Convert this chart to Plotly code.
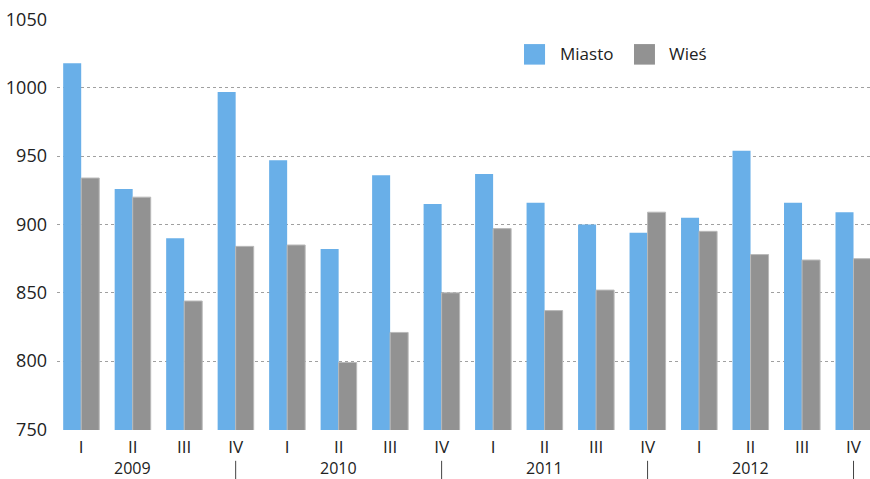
import plotly.graph_objects as go

# quarters 2009-2012
quarters = ["I", "II", "III", "IV"] * 4
years = ["2009", "2010", "2011", "2012"]
miasto = [1018, 926, 890, 997, 947, 882, 936, 915, 937, 916, 900, 894, 905, 954, 916, 909]
wies = [934, 920, 844, 884, 885, 799, 821, 850, 897, 837, 852, 909, 895, 878, 874, 875]

BLUE = "#69afe8"
GRAY = "#929292"
FONT = "Open Sans"

x = list(range(len(quarters)))

fig = go.Figure()
fig.add_trace(go.Bar(x=x, y=miasto, name="Miasto", marker=dict(color=BLUE, line=dict(width=0))))
fig.add_trace(go.Bar(x=x, y=wies, name="Wieś", marker=dict(color=GRAY, line=dict(color="#b9b9b9", width=1))))

# year labels sit under the 2nd quarter, separators under the 4th
annotations = []
for i, yr in enumerate(years):
    annotations.append(dict(
        x=i * 4 + 1, y=0, xref="x", yref="paper", text=yr, showarrow=False,
        yanchor="middle", yshift=-38, font=dict(family=FONT, size=16, color="#222"),
    ))
shapes = []
for i in range(len(years)):
    shapes.append(dict(
        type="line", xref="x", yref="paper", x0=i * 4 + 3, x1=i * 4 + 3,
        y0=-0.075, y1=-0.12, line=dict(color="#444", width=1),
    ))

# manual legend with large squares
for (x0, x1, col, tx, name) in [(0.5744, 0.6003, BLUE, 0.6162, "Miasto"),
                                (0.7097, 0.7355, GRAY, 0.7503, "Wieś")]:
    shapes.append(dict(type="rect", xref="paper", yref="paper", x0=x0, x1=x1,
                       y0=0.889, y1=0.939, fillcolor=col, line=dict(width=0)))
    annotations.append(dict(x=tx, y=0.915, xref="paper", yref="paper", text=name,
                            showarrow=False, xanchor="left", yanchor="middle",
                            font=dict(family=FONT, size=17, color="#222")))

fig.update_layout(
    width=870, height=479,
    margin=dict(l=57, r=0, t=19, b=49),
    barmode="group", bargap=0.3, bargroupgap=0,
    plot_bgcolor="white", paper_bgcolor="white",
    showlegend=False,
    font=dict(family=FONT, size=17, color="#222"),
    annotations=annotations, shapes=shapes,
)
fig.update_xaxes(
    range=[-0.47, 15.32], tickmode="array", tickvals=x, ticktext=quarters,
    showgrid=False, showline=False, zeroline=False, ticks="", ticklabelstandoff=5,
    tickfont=dict(family=FONT, size=17, color="#222"), automargin=False,
)
fig.update_yaxes(
    range=[749.6, 1050.4], tickvals=[750, 800, 850, 900, 950, 1000, 1050],
    showgrid=True, gridcolor="#a0a0a0", griddash="3px,3px",
    gridwidth=1, zeroline=False, showline=False, ticks="", ticklabelstandoff=9,
    tickfont=dict(family=FONT, size=18, color="#222"), automargin=False,
)

# page body has a default 8px margin; drop it so the figure fills the window
fig.write_html("out.html", config={"displayModeBar": False},
               post_script="document.body.style.margin='0';")
